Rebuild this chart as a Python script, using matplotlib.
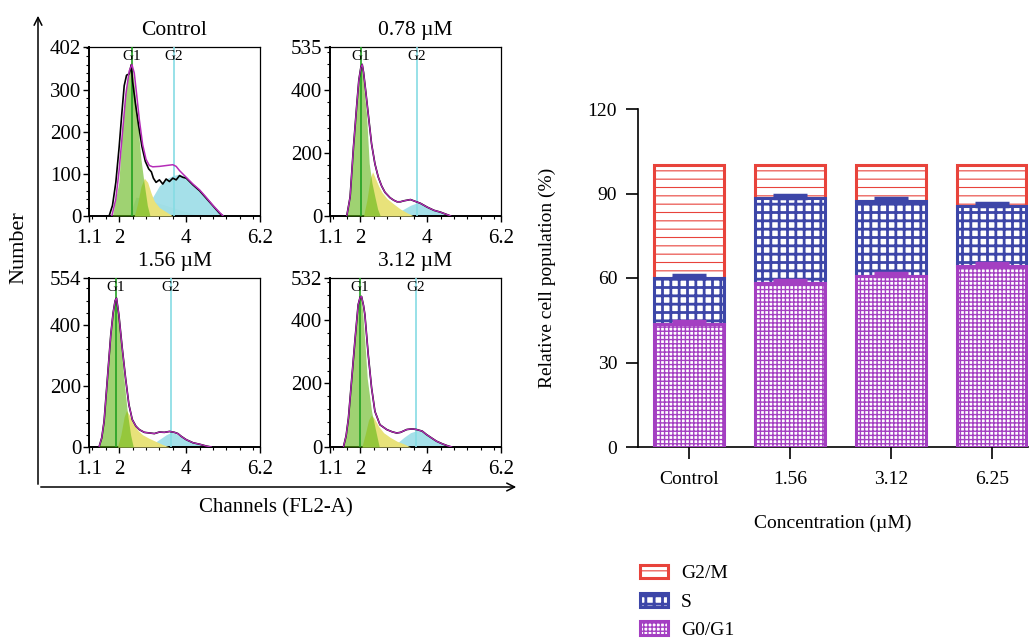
import numpy as np
import matplotlib
matplotlib.use('Agg')
import matplotlib.pyplot as plt
from matplotlib.patches import FancyArrowPatch

plt.rcParams['font.family'] = ['Liberation Serif', 'DejaVu Serif']

W, H = 1029, 639

# ---- flow histograms ----
ctrl_data_x = [1.70, 1.80, 1.90, 2.00, 2.08, 2.15, 2.22, 2.30, 2.36, 2.40, 2.48, 2.58, 2.68, 2.78,
               2.88, 2.96, 3.02, 3.10, 3.20, 3.30, 3.40, 3.50, 3.60, 3.70, 3.80, 3.90, 4.00,
               4.20, 4.40, 4.60, 4.80, 5.00, 5.10]
ctrl_data = [0, 25, 80, 165, 245, 310, 335, 338, 360, 320, 270, 215, 165, 130,
             112, 105, 90, 80, 86, 76, 88, 82, 90, 86, 96, 92, 90,
             74, 60, 42, 24, 6, 0]
ctrl_fit_x = [1.78, 1.90, 2.00, 2.10, 2.20, 2.30, 2.38, 2.45, 2.52, 2.60, 2.70, 2.80, 2.90,
              3.00, 3.20, 3.40, 3.60, 3.70, 3.80, 4.00, 4.20, 4.40, 4.60, 4.80, 5.00, 5.10]
ctrl_fit = [0, 40, 110, 200, 290, 345, 360, 340, 290, 230, 170, 135, 120,
            117, 118, 120, 122, 118, 108, 92, 76, 62, 44, 25, 8, 0]
ctrl_g1_x = [1.80, 1.85, 1.99, 2.09, 2.20, 2.30, 2.37, 2.45, 2.50, 2.57, 2.65, 2.74, 2.84, 2.92]
ctrl_g1 = [0, 22, 80, 205, 300, 350, 368, 310, 265, 205, 135, 80, 25, 0]
ctrl_s_x = [2.45, 2.55, 2.65, 2.75, 2.85, 2.95, 3.05, 3.20, 3.40, 3.60]
ctrl_s = [0, 30, 70, 90, 80, 55, 35, 20, 10, 0]
ctrl_g2_x = [2.60, 2.80, 3.00, 3.20, 3.40, 3.60, 3.80, 4.00, 4.20, 4.40, 4.60, 4.80, 5.00, 5.20]
ctrl_g2 = [0, 15, 45, 72, 88, 96, 100, 92, 76, 60, 42, 24, 8, 0]
ctrl_bg_x = [2.30, 2.50, 2.80, 3.20, 3.60, 4.00, 4.40]
ctrl_bg = [0, 45, 40, 30, 20, 10, 0]
ctrl_yticks = [0, 100, 200, 300, 402]

d078_x = [1.60, 1.70, 1.80, 1.90, 1.96, 2.02, 2.06, 2.10, 2.16, 2.24, 2.34, 2.44, 2.54, 2.64,
          2.74, 2.89, 3.00, 3.10, 3.20, 3.30, 3.40, 3.50, 3.60, 3.70, 3.80, 3.90, 4.00,
          4.20, 4.40, 4.60, 4.70]
d078 = [0, 60, 218, 354, 430, 470, 480, 455, 400, 323, 228, 165, 123, 95,
        75, 58, 50, 45, 45, 48, 50, 52, 48, 44, 40, 34, 28,
        18, 12, 4, 0]
d078_g1_x = [1.60, 1.70, 1.80, 1.90, 1.97, 2.03, 2.09, 2.19, 2.27, 2.35, 2.44, 2.52, 2.60]
d078_g1 = [0, 55, 210, 350, 440, 485, 430, 320, 166, 105, 60, 22, 0]
d078_s_x = [2.10, 2.20, 2.30, 2.37, 2.45, 2.55, 2.65, 2.80, 3.00, 3.20, 3.40, 3.60]
d078_s = [0, 50, 120, 140, 120, 95, 75, 55, 38, 22, 10, 0]
d078_g2_x = [2.90, 3.10, 3.30, 3.50, 3.70, 3.85, 4.00, 4.20, 4.40, 4.60, 4.70]
d078_g2 = [0, 10, 22, 34, 42, 40, 30, 18, 12, 4, 0]
d078_yticks = [0, 200, 400, 535]

d156_x = [1.40, 1.48, 1.55, 1.65, 1.75, 1.82, 1.88, 1.92, 1.99, 2.09, 2.19, 2.29, 2.39, 2.50,
          2.60, 2.75, 2.90, 3.05, 3.20, 3.35, 3.50, 3.65, 3.75, 3.85, 4.00, 4.20, 4.40,
          4.60, 4.75]
d156 = [0, 30, 84, 226, 368, 440, 480, 488, 434, 325, 226, 139, 90, 68,
        57, 48, 46, 44, 49, 48, 51, 48, 44, 35, 24, 14, 9,
        3, 0]
d156_g1_x = [1.40, 1.50, 1.60, 1.70, 1.80, 1.87, 1.91, 1.97, 2.05, 2.14, 2.24, 2.34, 2.42]
d156_g1 = [0, 45, 150, 300, 420, 475, 495, 440, 330, 226, 117, 40, 0]
d156_s_x = [1.95, 2.05, 2.15, 2.22, 2.30, 2.40, 2.55, 2.70, 2.90, 3.10, 3.30, 3.50]
d156_s = [0, 40, 100, 120, 105, 80, 55, 40, 28, 18, 8, 0]
d156_g2_x = [2.80, 3.00, 3.20, 3.40, 3.55, 3.65, 3.80, 4.00, 4.20, 4.40, 4.60, 4.75]
d156_g2 = [0, 10, 25, 40, 48, 46, 36, 24, 14, 9, 3, 0]
d156_yticks = [0, 200, 400, 554]

d312_x = [1.50, 1.58, 1.65, 1.75, 1.85, 1.94, 2.00, 2.04, 2.10, 2.14, 2.24, 2.34, 2.44, 2.59,
          2.79, 2.95, 3.09, 3.20, 3.39, 3.55, 3.68, 3.85, 3.98, 4.15, 4.28, 4.45, 4.60, 4.73]
d312 = [0, 35, 91, 217, 343, 448, 472, 474, 445, 417, 291, 186, 112, 70,
        55, 48, 44, 46, 55, 57, 55, 50, 39, 27, 18, 10, 4, 0]
d312_g1_x = [1.50, 1.60, 1.70, 1.80, 1.90, 1.97, 2.01, 2.07, 2.14, 2.21, 2.34, 2.49, 2.57]
d312_g1 = [0, 50, 150, 290, 410, 465, 480, 430, 330, 217, 112, 38, 0]
d312_s_x = [2.05, 2.15, 2.25, 2.33, 2.42, 2.55, 2.70, 2.90, 3.10, 3.30, 3.50]
d312_s = [0, 40, 85, 100, 90, 65, 45, 30, 18, 10, 0]
d312_g2_x = [2.90, 3.10, 3.30, 3.50, 3.70, 3.85, 4.00, 4.15, 4.30, 4.45, 4.60, 4.75]
d312_g2 = [0, 12, 30, 45, 52, 50, 38, 27, 18, 10, 4, 0]
d312_yticks = [0, 200, 400, 532]

# G1 / G2 marker positions on the channel axis
g1_marks = [2.38, 2.02, 1.91, 2.00]
g2_marks = [3.63, 3.68, 3.54, 3.66]

# ---- stacked bars ----
groups = ['Control', '1.56', '3.12', '6.25']
g0g1 = [43.6, 58.1, 60.7, 64.3]
s_phase = [16.3, 30.2, 26.6, 21.3]
g2m = [40.1, 11.7, 12.7, 14.4]
g0g1_err = [1.3, 1.1, 1.0, 1.2]
s_err = [1.2, 1.3, 1.1, 0.9]

RED = '#e8433b'
BLUE = '#3d46a8'
PURPLE = '#a43fc2'

HIST_FS = 15


def px_axes(fig, l, t, r, b):
    return fig.add_axes([l / W, 1 - b / H, (r - l) / W, (b - t) / H])


def draw_hist(ax, title, yticks, g1_pos, g2_pos, dx, dy, g1x, g1y, sx, sy, g2x, g2y,
              fitx=None, fity=None, bgx=None, bgy=None):
    ymax = yticks[-1]
    if bgx is not None:
        ax.fill_between(bgx, bgy, color='#cfeedd', alpha=0.8, lw=0, zorder=1)
    ax.fill_between(g2x, g2y, color='#96dbe6', alpha=0.85, lw=0, zorder=2)
    ax.fill_between(sx, sy, color='#e8e27a', lw=0, zorder=3)
    ax.fill_between(g1x, g1y, color='#5fb514', alpha=0.6, lw=0, zorder=4)
    ax.axvline(g1_pos, color='#22a022', lw=1.2, zorder=5)
    ax.axvline(g2_pos, color='#86dce4', lw=1.2, zorder=5)
    ax.plot(dx, dy, color='black', lw=1.2, zorder=6)
    if fitx is None:
        ax.plot(dx, dy, color='#b52cb8', lw=0.9, zorder=7)
    else:
        ax.plot(fitx, fity, color='#b52cb8', lw=1.1, zorder=7)
    ax.text(g1_pos, ymax * 0.985, 'G1', ha='center', va='top', fontsize=11, zorder=8)
    ax.text(g2_pos, ymax * 0.985, 'G2', ha='center', va='top', fontsize=11, zorder=8)

    ax.set_xlim(1.1, 6.2)
    ax.set_ylim(0, ymax)
    ax.set_xticks([1.1, 2, 4, 6.2])
    ax.set_xticklabels(['1.1', '2', '4', '6.2'])
    ax.set_xticks(np.arange(1.2, 6.1, 0.4), minor=True)
    ax.set_yticks(yticks)
    ystep = yticks[1]
    ax.set_yticks(np.arange(0, ymax, ystep / 5), minor=True)
    ax.tick_params(which='major', direction='out', length=4, width=1.0, labelsize=HIST_FS)
    ax.tick_params(axis='y', which='major', pad=1.5)
    ax.tick_params(axis='x', which='major', pad=5.5)
    ax.tick_params(which='minor', direction='out', length=2.5, width=0.8)
    for sp in ax.spines.values():
        sp.set_linewidth(0.9)
    ax.spines['left'].set_linewidth(1.4)
    ax.spines['bottom'].set_linewidth(1.4)
    ax.text(0.5, 1.095, title, ha='center', va='center', fontsize=HIST_FS + 0.5,
            transform=ax.transAxes)


fig = plt.figure(figsize=(W / 100, H / 100), dpi=100)

ax1 = px_axes(fig, 89, 47, 260, 216)
draw_hist(ax1, 'Control', ctrl_yticks, g1_marks[0], g2_marks[0], ctrl_data_x, ctrl_data,
          ctrl_g1_x, ctrl_g1, ctrl_s_x, ctrl_s, ctrl_g2_x, ctrl_g2,
          fitx=ctrl_fit_x, fity=ctrl_fit, bgx=ctrl_bg_x, bgy=ctrl_bg)
ax2 = px_axes(fig, 330, 47, 501, 216)
draw_hist(ax2, '0.78 µM', d078_yticks, g1_marks[1], g2_marks[1], d078_x, d078,
          d078_g1_x, d078_g1, d078_s_x, d078_s, d078_g2_x, d078_g2)
ax3 = px_axes(fig, 89, 278, 260, 447)
draw_hist(ax3, '1.56 µM', d156_yticks, g1_marks[2], g2_marks[2], d156_x, d156,
          d156_g1_x, d156_g1, d156_s_x, d156_s, d156_g2_x, d156_g2)
ax4 = px_axes(fig, 330, 278, 501, 447)
draw_hist(ax4, '3.12 µM', d312_yticks, g1_marks[3], g2_marks[3], d312_x, d312,
          d312_g1_x, d312_g1, d312_s_x, d312_s, d312_g2_x, d312_g2)

# big frame arrows round the histograms
fig.add_artist(FancyArrowPatch((38 / W, 1 - 487 / H), (38 / W, 1 - 13 / H),
                               transform=fig.transFigure, arrowstyle='->',
                               mutation_scale=14, lw=1.1, color='black'))
fig.add_artist(FancyArrowPatch((38 / W, 1 - 487 / H), (519 / W, 1 - 487 / H),
                               transform=fig.transFigure, arrowstyle='->',
                               mutation_scale=14, lw=1.1, color='black'))
fig.text(19 / W, 1 - 248 / H, 'Number', rotation=90, ha='center', va='center', fontsize=16)
fig.text(276 / W, 1 - 508 / H, 'Channels (FL2-A)', ha='center', va='center', fontsize=15)

# ---- stacked bar chart ----
axb = px_axes(fig, 638, 109, 1028, 447)
x = np.arange(len(groups))
bw = 0.69
bottom_s = np.array(g0g1)
bottom_g2 = np.array(g0g1) + np.array(s_phase)
HATCH_LW = {'G2/M': 0.8, 'S': 2.0, 'G0/G1': 1.0}


def hatched_bar(ax, heights, bottom, color, hatch, z, label):
    # the hatch width is stored on each patch when it is made
    plt.rcParams['hatch.linewidth'] = HATCH_LW[label]
    bars = ax.bar(x, heights, bw, bottom=bottom, color='white', edgecolor=color,
                  hatch=hatch, linewidth=2.2, zorder=z, label=label)
    for p in bars:
        p.set_hatch_linewidth(HATCH_LW[label])
    return bars


b_g2m = hatched_bar(axb, g2m, bottom_g2, RED, '--', 2, 'G2/M')
b_s = hatched_bar(axb, s_phase, bottom_s, BLUE, '++', 3, 'S')
b_g0 = hatched_bar(axb, g0g1, 0, PURPLE, '++++', 4, 'G0/G1')
plt.rcParams['hatch.linewidth'] = 1.0

axb.errorbar(x, bottom_g2, yerr=[np.zeros(4), s_err], fmt='none', ecolor=BLUE,
             elinewidth=1.5, capsize=12, capthick=2.5, zorder=6)
axb.errorbar(x, bottom_s, yerr=[np.zeros(4), g0g1_err], fmt='none', ecolor=PURPLE,
             elinewidth=1.5, capsize=12, capthick=2.5, zorder=6)

axb.set_xlim(-0.505, 3.36)
axb.set_ylim(0, 120)
axb.set_yticks([0, 30, 60, 90, 120])
axb.set_xticks(x)
axb.set_xticklabels(groups)
axb.spines['top'].set_visible(False)
axb.spines['right'].set_visible(False)
axb.spines['left'].set_linewidth(1.2)
axb.spines['bottom'].set_linewidth(1.2)
axb.tick_params(direction='out', length=8.5, width=1.2, labelsize=14)
axb.tick_params(axis='y', pad=6.5)
axb.tick_params(axis='x', pad=8.5)
fig.text(547 / W, 1 - 278 / H, 'Relative cell population (%)', rotation=90,
         ha='center', va='center', fontsize=14)
fig.text(833 / W, 1 - 523 / H, 'Concentration (µM)', ha='center', va='center', fontsize=14)

labels = ['G2/M', 'S', 'G0/G1']
leg = fig.legend(handles=[b_g2m, b_s, b_g0], labels=labels,
                 loc='upper left', bbox_to_anchor=(640 / W, 1 - 565 / H), frameon=False,
                 fontsize=14, handlelength=1.45, handleheight=0.68, handletextpad=0.65,
                 labelspacing=0.55, borderpad=0, borderaxespad=0)
for h, lab in zip(leg.legend_handles, labels):
    h.set_hatch_linewidth(HATCH_LW[lab])

fig.savefig('out.png', dpi=100)
